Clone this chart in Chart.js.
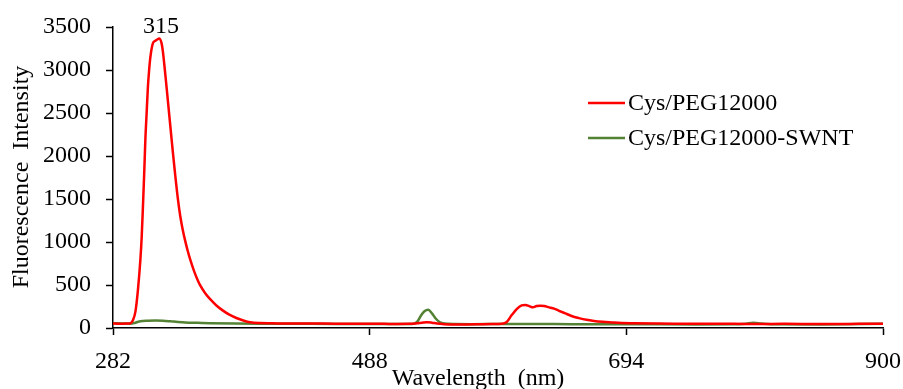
<!DOCTYPE html>
<html>
<head>
<meta charset="utf-8">
<script src="https://cdn.jsdelivr.net/npm/chart.js@4"></script>
<style>
    html, body { margin: 0; padding: 0; background: #fff; }
    #wrap { width: 903px; height: 389px; }
</style>
</head>
<body>
<div id="wrap"><canvas id="spectrumChart" width="903" height="389"></canvas></div>
<script>
// 数据
const xTicks = [282, 488, 694, 900];
const yTicks = [0, 500, 1000, 1500, 2000, 2500, 3000, 3500];

const redLabel = 'Cys/PEG12000';
const redX = [282, 286, 290, 294, 296, 298, 300, 302, 304, 305, 306, 307, 308, 309, 310, 311, 312, 314, 316, 318,
    319, 321, 322, 324, 326, 328, 330, 332, 334, 336, 338, 340, 342, 344, 347, 350, 352, 356, 360, 365,
    370, 375, 381, 386, 392, 400, 410, 420, 440, 460, 480, 500, 510, 520, 526, 530, 534, 538, 542, 548,
    556, 566, 576, 586, 594, 598, 602, 606, 610, 613, 616, 619, 622, 625, 628, 632, 636, 640, 645, 650,
    656, 662, 668, 675, 682, 690, 700, 720, 740, 760, 780, 800, 820, 840, 860, 880, 900];
const redY = [52, 50, 50, 52, 55, 90, 190, 440, 800, 1050, 1400, 1780, 2200, 2500, 2800, 3000, 3150, 3310, 3340, 3360,
    3365, 3310, 3220, 2945, 2650, 2350, 2050, 1770, 1510, 1300, 1140, 1010, 895, 795, 665, 555, 495, 405, 335, 262,
    205, 158, 116, 90, 66, 57, 55, 52, 52, 50, 50, 48, 47, 48, 55, 62, 68, 62, 52, 45,
    42, 42, 44, 46, 50, 70, 150, 220, 262, 268, 255, 240, 255, 260, 255, 240, 225, 200, 170, 140,
    115, 95, 82, 72, 65, 58, 55, 52, 50, 48, 48, 47, 48, 47, 46, 48, 50];

const greenLabel = 'Cys/PEG12000-SWNT';
const greenX = [282, 290, 296, 300, 304, 310, 316, 322, 328, 334, 340, 350, 360, 380, 400, 440, 480, 510, 522, 526,
    529, 532, 535, 538, 541, 544, 548, 556, 570, 600, 650, 700, 750, 780, 790, 796, 802, 810, 850, 900];
const greenY = [55, 52, 50, 62, 78, 85, 88, 85, 78, 70, 64, 60, 56, 52, 50, 48, 47, 46, 47, 70,
    140, 195, 212, 170, 110, 70, 52, 46, 45, 46, 45, 44, 42, 43, 50, 60, 52, 44, 42, 48];

const peakText = '315';

const FONT = '"Liberation Serif", "Times New Roman", serif';

function toPoints(xs, ys) {
    return xs.map((x, i) => ({ x: x, y: ys[i] }));
}

// 图例、坐标轴标题、峰值标注
const decorPlugin = {
    id: 'decor',
    afterDraw(chart) {
        const ctx = chart.ctx;
        const xs = chart.scales.x;
        const ys = chart.scales.y;
        ctx.save();
        ctx.fillStyle = '#000';
        ctx.font = '24px ' + FONT;

        // 峰值标注
        const iMax = redY.indexOf(Math.max(...redY));
        ctx.textAlign = 'center';
        ctx.textBaseline = 'alphabetic';
        ctx.fillText(peakText, xs.getPixelForValue(redX[iMax]) + 2, ys.getPixelForValue(redY[iMax]) - 6);

        // X 轴标题
        ctx.fillText('Wavelength  (nm)', 478, 385);

        // Y 轴标题
        ctx.save();
        ctx.translate(28, 177);
        ctx.rotate(-Math.PI / 2);
        ctx.fillText('Fluorescence  Intensity', 0, 0);
        ctx.restore();

        // 图例
        ctx.textAlign = 'left';
        ctx.textBaseline = 'middle';
        chart.data.datasets.forEach((ds, i) => {
            const y = 103 + i * 35;
            ctx.strokeStyle = ds.borderColor;
            ctx.lineWidth = 2.5;
            ctx.beginPath();
            ctx.moveTo(588, y);
            ctx.lineTo(625, y);
            ctx.stroke();
            ctx.fillText(ds.label, 628, y + 1);
        });
        ctx.restore();
    }
};

const chartCtx = document.getElementById('spectrumChart').getContext('2d');
window.spectrumChart = new Chart(chartCtx, {
    type: 'line',
    data: {
        datasets: [
            {
                label: redLabel,
                data: toPoints(redX, redY),
                borderColor: '#ff0000',
                borderWidth: 2.5,
                pointRadius: 0,
                cubicInterpolationMode: 'monotone',
                fill: false
            },
            {
                label: greenLabel,
                data: toPoints(greenX, greenY),
                borderColor: '#548235',
                borderWidth: 2.5,
                pointRadius: 0,
                cubicInterpolationMode: 'monotone',
                fill: false
            }
        ]
    },
    options: {
        responsive: false,
        animation: false,
        devicePixelRatio: 1,
        layout: {
            padding: { top: 27, right: 20, left: 0, bottom: 0 }
        },
        scales: {
            x: {
                type: 'linear',
                min: xTicks[0],
                max: xTicks[xTicks.length - 1],
                afterBuildTicks: scale => {
                    scale.ticks = xTicks.map(v => ({ value: v }));
                },
                afterFit: scale => {
                    scale.height = 61;
                    scale.paddingLeft = 0;
                    scale.paddingRight = 0;
                },
                grid: {
                    drawOnChartArea: false,
                    drawTicks: true,
                    tickLength: 7,
                    tickWidth: 1.5,
                    tickColor: '#000'
                },
                border: { color: '#000', width: 1.5 },
                ticks: {
                    color: '#000',
                    padding: 12,
                    maxRotation: 0,
                    autoSkip: false,
                    callback: v => String(v),
                    font: { family: FONT, size: 24 }
                }
            },
            y: {
                min: yTicks[0],
                max: yTicks[yTicks.length - 1],
                afterBuildTicks: scale => {
                    scale.ticks = yTicks.map(v => ({ value: v }));
                },
                afterFit: scale => {
                    scale.width = 113;
                    scale.paddingTop = 0;
                    scale.paddingBottom = 0;
                },
                grid: {
                    drawOnChartArea: false,
                    drawTicks: true,
                    tickLength: 7,
                    tickWidth: 1.5,
                    tickColor: '#000'
                },
                border: { color: '#000', width: 1.5 },
                ticks: {
                    color: '#000',
                    padding: 15,
                    callback: v => String(v),
                    font: { family: FONT, size: 24 }
                }
            }
        },
        plugins: {
            legend: { display: false },
            tooltip: { enabled: false }
        }
    },
    plugins: [decorPlugin]
});
</script>
</body>
</html>
